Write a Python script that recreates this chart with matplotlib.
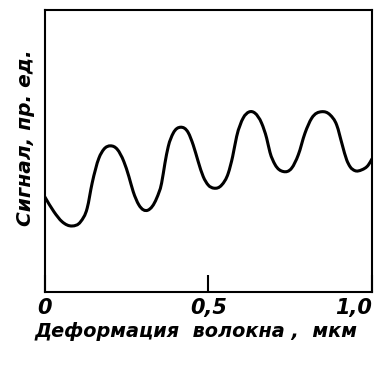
import matplotlib
matplotlib.use("Agg")
import matplotlib.pyplot as plt
import numpy as np
from matplotlib.path import Path
from matplotlib.patches import PathPatch

# Curve (x in мкм, y in relative units 0..1 of the frame)
x_vals = [0.0, 0.0275, 0.0529, 0.0835, 0.1092, 0.1294, 0.1446, 0.1651,
          0.1804, 0.2009, 0.2211, 0.2416, 0.2569, 0.2700, 0.2875, 0.3150,
          0.3416, 0.3569, 0.3670, 0.3771, 0.3924, 0.4150, 0.4382, 0.4535, 0.4688,
          0.4841, 0.4994, 0.5168, 0.5404, 0.5606, 0.5740, 0.5862, 0.6064, 0.6239,
          0.6422, 0.6627, 0.6780, 0.6881, 0.7034, 0.7287, 0.7544, 0.7746, 0.7951,
          0.8156, 0.8462, 0.8716, 0.8920, 0.9092, 0.9226, 0.9330, 0.9480, 0.9685,
          0.9887, 1.0]
y_vals = [0.337, 0.285, 0.249, 0.234, 0.249, 0.297, 0.386, 0.474,
          0.506, 0.518, 0.506, 0.462, 0.409, 0.356, 0.3085, 0.290,
          0.332, 0.386, 0.456, 0.515, 0.563, 0.584, 0.565, 0.521, 0.462,
          0.409, 0.379, 0.368, 0.379, 0.421, 0.480, 0.551, 0.617, 0.638,
          0.634, 0.598, 0.545, 0.495, 0.452, 0.427, 0.439, 0.486, 0.563,
          0.616, 0.639, 0.628, 0.592, 0.521, 0.468, 0.444, 0.430, 0.433,
          0.450, 0.472]

x_ticks = [0.0, 0.5, 1.0]
x_tick_labels = ["0", "0,5", "1,0"]
x_label = "Деформация  волокна ,  мкм"
y_label = "Сигнал, пр. ед."

FAM = "DejaVu Sans"

fig = plt.figure(figsize=(3.8, 3.65), dpi=100)
ax = fig.add_axes([0.118, 0.2, 0.861, 0.773])

# smooth drawing through the read points: cubic Hermite segments (Bezier form)
X = np.asarray(x_vals)
Y = np.asarray(y_vals)
n = len(X)
h = np.diff(X)
d = np.diff(Y) / h
m = np.empty(n)
m[0] = d[0]
m[-1] = d[-1]
for i in range(1, n - 1):
    m[i] = (d[i - 1] * h[i] + d[i] * h[i - 1]) / (h[i - 1] + h[i])
verts = [(X[0], Y[0])]
codes = [Path.MOVETO]
for i in range(n - 1):
    verts += [(X[i] + h[i] / 3, Y[i] + m[i] * h[i] / 3),
              (X[i + 1] - h[i] / 3, Y[i + 1] - m[i + 1] * h[i] / 3),
              (X[i + 1], Y[i + 1])]
    codes += [Path.CURVE4] * 3
ax.add_patch(PathPatch(Path(verts, codes), facecolor="none", edgecolor="black",
                       lw=2.2, joinstyle="round", capstyle="round"))

ax.set_xlim(0, 1.0)
ax.set_ylim(0, 1.0)
for s in ax.spines.values():
    s.set_linewidth(1.5)

ax.set_xticks(x_ticks)
ax.set_xticklabels(x_tick_labels)
ax.tick_params(axis="x", direction="in", length=12, width=1.5, pad=4)
ax.set_yticks([])

labs = ax.get_xticklabels()
for lab in labs:
    lab.set_family(FAM)
    lab.set_fontsize(15)
    lab.set_fontstyle("oblique")
    lab.set_fontweight("bold")
labs[-1].set_horizontalalignment("right")

ax.set_xlabel(x_label, fontsize=13.9, family=FAM,
              style="oblique", weight="bold")
ax.xaxis.set_label_coords(0.462, -0.105)
ax.set_ylabel(y_label, fontsize=14.5, family=FAM, style="oblique", weight="bold")
ax.yaxis.set_label_coords(-0.03, 0.548)

fig.savefig("out.png", dpi=100)
